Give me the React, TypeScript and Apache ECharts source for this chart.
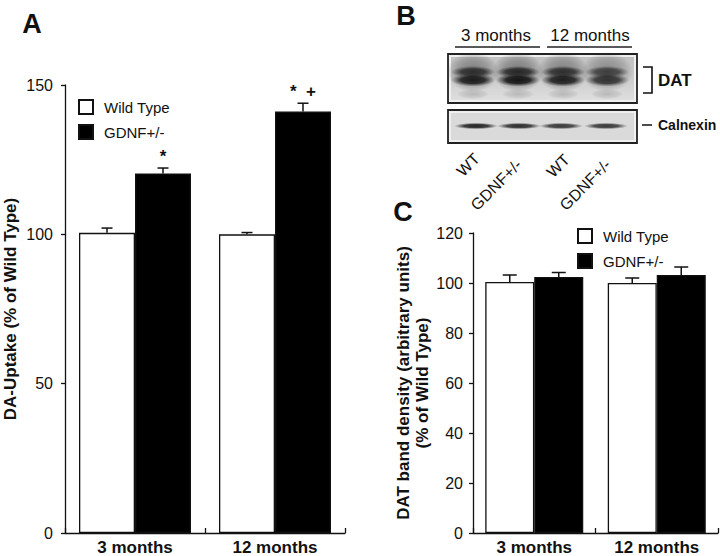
import React, { useEffect, useRef } from "react";
import * as echarts from "echarts";

const categories = ["3 months", "12 months"];
const seriesNames = ["Wild Type", "GDNF+/-"];
// Panel A: DA uptake (% of wild type)
const uptakeWT = [100.5, 100];
const uptakeWTErr = [1.6, 0.6];
const uptakeHet = [120.4, 141.1];
const uptakeHetErr = [1.8, 2.8];
const uptakeMarksWT = ["", ""];
const uptakeMarksHet = ["*", "*  +"];
const uptakeTicks = { min: 0, max: 150, interval: 50 };
// Panel C: DAT band density (% of wild type)
const densityWT = [100.4, 100];
const densityWTErr = [2.8, 2.0];
const densityHet = [102.4, 103.2];
const densityHetErr = [1.8, 3.2];
const densityTicks = { min: 0, max: 120, interval: 20 };
// Panel B: blot labels
const blotAges = ["3 months", "12 months"];
const blotLanes = ["WT", "GDNF+/-", "WT", "GDNF+/-"];
const datBandStrength = [0.9, 0.95, 0.88, 0.75];
const calnexinBandStrength = [0.9, 0.85, 0.8, 0.8];

const FONT = "'Liberation Sans', Arial, Helvetica, sans-serif";
const INK = "#111";

function errorSeries(
  xIdx: number,
  values: number[],
  errs: number[],
  marks: string[],
  offset: number,
  cap: number,
  markGap: number
) {
  return {
    type: "custom",
    xAxisIndex: xIdx,
    yAxisIndex: xIdx,
    z: 5,
    silent: true,
    data: values.map((v, i) => [i, v, errs[i]]),
    renderItem: (params: any, api: any) => {
      const x = api.value(0);
      const v = api.value(1);
      const e = api.value(2);
      const base = api.coord([x, v]);
      const top = api.coord([x, v + e]);
      const band = api.size([1, 0])[0];
      const cx = base[0] + offset * band;
      const children: any[] = [
        {
          type: "line",
          shape: { x1: cx, y1: base[1], x2: cx, y2: top[1] },
          style: { stroke: INK, lineWidth: 1.5 },
        },
        {
          type: "line",
          shape: { x1: cx - cap / 2, y1: top[1], x2: cx + cap / 2, y2: top[1] },
          style: { stroke: INK, lineWidth: 1.5 },
        },
      ];
      const m = marks[params.dataIndex];
      if (m) {
        children.push({
          type: "text",
          x: cx,
          y: top[1] - markGap,
          style: {
            text: m,
            font: `bold 17px ${FONT}`,
            fill: INK,
            align: "center",
            verticalAlign: "middle",
          },
        });
      }
      return { type: "group", children };
    },
  };
}

function radial(inner: string, mid: string) {
  return new echarts.graphic.RadialGradient(0.5, 0.5, 0.5, [
    { offset: 0, color: inner },
    { offset: 0.55, color: mid },
    { offset: 1, color: "rgba(60,60,60,0)" },
  ]);
}

function blotGraphics() {
  const laneX = [473, 518, 563, 607];
  const calX = [476, 519, 561, 606];
  const els: any[] = [];
  const ageX = [496, 590];
  const lineX = [
    [455, 540],
    [547, 632],
  ];
  blotAges.forEach((a, i) => {
    els.push({
      type: "text",
      x: ageX[i],
      y: 35,
      style: { text: a, font: `17px ${FONT}`, fill: INK, align: "center", verticalAlign: "middle" },
    });
    els.push({
      type: "line",
      shape: { x1: lineX[i][0], y1: 47, x2: lineX[i][1], y2: 47 },
      style: { stroke: "#222", lineWidth: 1.6 },
    });
  });
  // DAT blot
  els.push({
    type: "rect",
    shape: { x: 448, y: 54, width: 189, height: 49 },
    style: { fill: "#f0f0f0", stroke: "#222", lineWidth: 1.8 },
  });
  els.push({
    type: "rect",
    shape: { x: 451, y: 57, width: 183, height: 43 },
    style: {
      fill: new echarts.graphic.LinearGradient(0, 0, 0, 1, [
        { offset: 0, color: "#c2c2c2" },
        { offset: 0.5, color: "#cdcdcd" },
        { offset: 1, color: "#dedede" },
      ]),
    },
  });
  laneX.forEach((cx, i) => {
    const s = datBandStrength[i];
    els.push({
      type: "ellipse",
      shape: { cx, cy: 72, rx: 26, ry: 20 },
      style: { fill: radial(`rgba(80,80,80,${0.75 * s})`, `rgba(90,90,90,${0.5 * s})`) },
    });
    els.push({
      type: "ellipse",
      shape: { cx, cy: 72, rx: 22, ry: 6 },
      style: { fill: radial(`rgba(30,30,30,${0.95 * s})`, `rgba(35,35,35,${0.85 * s})`) },
    });
    els.push({
      type: "ellipse",
      shape: { cx, cy: 80, rx: 22, ry: 6.5 },
      style: { fill: radial(`rgba(15,15,15,${s})`, `rgba(20,20,20,${0.9 * s})`) },
    });
    els.push({
      type: "ellipse",
      shape: { cx, cy: 94, rx: 16, ry: 5 },
      style: { fill: radial("rgba(120,120,120,0.35)", "rgba(120,120,120,0.2)") },
    });
  });
  // Calnexin blot
  els.push({
    type: "rect",
    shape: { x: 448, y: 110, width: 189, height: 33 },
    style: { fill: "#f0f0f0", stroke: "#222", lineWidth: 1.8 },
  });
  els.push({
    type: "rect",
    shape: { x: 451, y: 113, width: 183, height: 27 },
    style: { fill: "#dadada" },
  });
  calX.forEach((cx, i) => {
    const s = calnexinBandStrength[i];
    els.push({
      type: "ellipse",
      shape: { cx, cy: 126, rx: 22, ry: 3.2 },
      style: { fill: radial(`rgba(15,15,15,${s})`, `rgba(25,25,25,${0.9 * s})`) },
    });
  });
  // DAT bracket + labels
  els.push({
    type: "polyline",
    shape: { points: [[643, 67], [652, 67], [652, 93], [643, 93]] },
    style: { stroke: INK, lineWidth: 1.6, fill: "none" },
  });
  els.push({
    type: "text",
    x: 658,
    y: 80,
    style: { text: "DAT", font: `bold 17px ${FONT}`, fill: INK, align: "left", verticalAlign: "middle" },
  });
  els.push({
    type: "line",
    shape: { x1: 642, y1: 125, x2: 652, y2: 125 },
    style: { stroke: INK, lineWidth: 1.5 },
  });
  els.push({
    type: "text",
    x: 658,
    y: 125,
    style: { text: "Calnexin", font: `bold 14px ${FONT}`, fill: INK, align: "left", verticalAlign: "middle" },
  });
  const anchor = [
    [477, 156],
    [519, 162],
    [567, 157],
    [608, 162],
  ];
  blotLanes.forEach((t, i) => {
    els.push({
      type: "text",
      x: anchor[i][0],
      y: anchor[i][1],
      rotation: Math.PI / 4,
      style: { text: t, font: `16px ${FONT}`, fill: INK, align: "right", verticalAlign: "middle" },
    });
  });
  return els;
}

export default function App() {
  const ref = useRef<HTMLDivElement>(null);
  useEffect(() => {
    if (!ref.current) return;
    const chart = echarts.init(ref.current, undefined, { renderer: "svg" });
    const xAxisBase = (gridIndex: number) => ({
      type: "category",
      gridIndex,
      data: categories,
      axisLine: { show: true, lineStyle: { color: INK, width: 1.3 } },
      axisTick: { show: true, inside: true, length: 5, lineStyle: { color: INK, width: 1.3 } },
      axisLabel: { fontFamily: FONT, fontSize: 17, fontWeight: "bold", color: INK, margin: 6 },
      splitLine: { show: false },
    });
    const yAxisBase = (gridIndex: number, t: any, name: string, nameGap: number, margin: number) => ({
      type: "value",
      gridIndex,
      min: t.min,
      max: t.max,
      interval: t.interval,
      name,
      nameLocation: "middle",
      nameRotate: 90,
      nameGap,
      nameTextStyle: { fontFamily: FONT, fontSize: 17, fontWeight: "bold", color: INK, lineHeight: 19 },
      axisLine: { show: true, lineStyle: { color: INK, width: 1.3 } },
      axisTick: { show: true, inside: false, length: 4, lineStyle: { color: INK, width: 1.3 } },
      axisLabel: { fontFamily: FONT, fontSize: 16, color: INK, margin },
      splitLine: { show: false },
    });
    const barWT = (idx: number, data: number[]) => ({
      name: seriesNames[0],
      type: "bar",
      xAxisIndex: idx,
      yAxisIndex: idx,
      data,
      barWidth: "40%",
      barGap: "0%",
      itemStyle: { color: "#fff", borderColor: INK, borderWidth: 1.3 },
    });
    const barHet = (idx: number, data: number[]) => ({
      name: seriesNames[1],
      type: "bar",
      xAxisIndex: idx,
      yAxisIndex: idx,
      data,
      barWidth: "40%",
      barGap: "0%",
      itemStyle: { color: "#000", borderColor: INK, borderWidth: 1.3 },
    });
    const legendBase = (left: number, top: number) => ({
      orient: "vertical",
      left,
      top,
      padding: 0,
      icon: "rect",
      itemWidth: 14,
      itemHeight: 14,
      itemGap: 9,
      data: seriesNames,
      selectedMode: false,
      textStyle: { fontFamily: FONT, fontSize: 15, color: INK, padding: [0, 0, 0, 6] },
    });
    chart.setOption({
      animation: false,
      backgroundColor: "#fff",
      textStyle: { fontFamily: FONT },
      grid: [
        { left: 62, right: 375, top: 85, bottom: 23, containLabel: false },
        { left: 473, right: 2, top: 233, bottom: 23, containLabel: false },
      ],
      xAxis: [xAxisBase(0), xAxisBase(1)],
      yAxis: [
        yAxisBase(0, uptakeTicks, "DA-Uptake (% of Wild Type)", 45, 12),
        yAxisBase(1, densityTicks, "DAT band density (arbitrary units)\n(% of Wild Type)", 37, 10),
      ],
      legend: [legendBase(78, 99), legendBase(577, 228)],
      series: [
        barWT(0, uptakeWT),
        barHet(0, uptakeHet),
        errorSeries(0, uptakeWT, uptakeWTErr, uptakeMarksWT, -0.2, 11, 12),
        errorSeries(0, uptakeHet, uptakeHetErr, uptakeMarksHet, 0.2, 11, 12),
        barWT(1, densityWT),
        barHet(1, densityHet),
        errorSeries(1, densityWT, densityWTErr, ["", ""], -0.2, 14, 12),
        errorSeries(1, densityHet, densityHetErr, ["", ""], 0.2, 14, 12),
      ],
      graphic: [
        {
          type: "text",
          x: 32,
          y: 24,
          style: { text: "A", font: `bold 27px ${FONT}`, fill: INK, align: "center", verticalAlign: "middle" },
        },
        {
          type: "text",
          x: 406,
          y: 16,
          style: { text: "B", font: `bold 27px ${FONT}`, fill: INK, align: "center", verticalAlign: "middle" },
        },
        {
          type: "text",
          x: 403,
          y: 212,
          style: { text: "C", font: `bold 27px ${FONT}`, fill: INK, align: "center", verticalAlign: "middle" },
        },
        ...blotGraphics(),
      ],
    });
    return () => chart.dispose();
  }, []);
  return (
    <div
      ref={ref}
      style={{ position: "absolute", left: 0, top: 0, width: 720, height: 556, background: "#fff" }}
    />
  );
}
